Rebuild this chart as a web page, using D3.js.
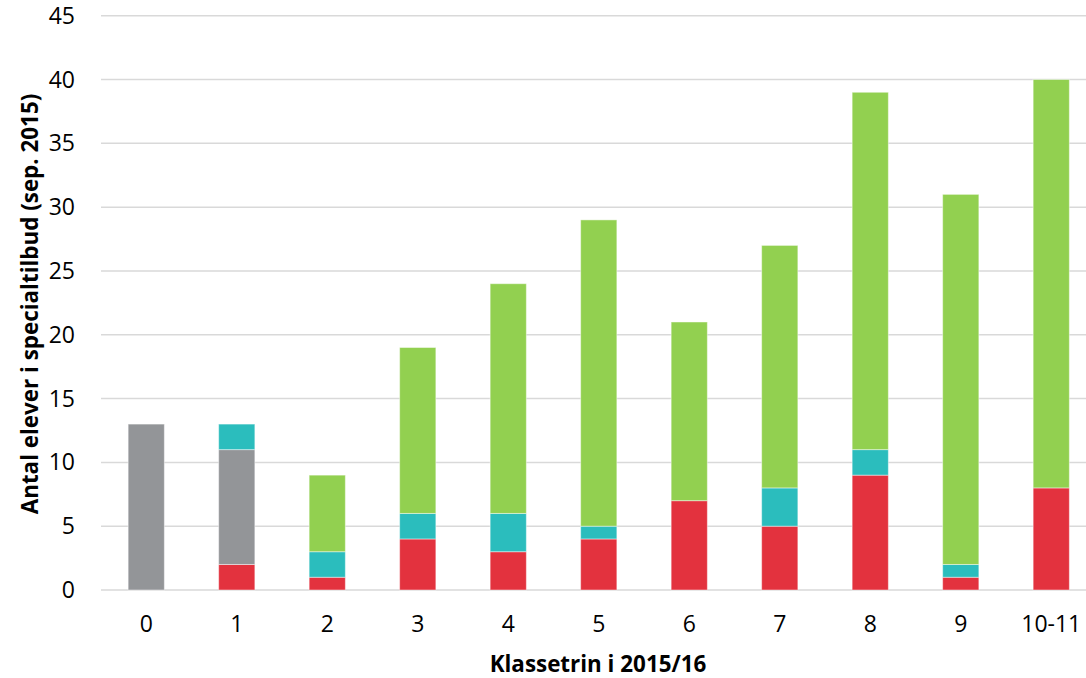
<!DOCTYPE html>
<html>
<head>
<meta charset="utf-8">
<script src="https://cdn.jsdelivr.net/npm/d3@7"></script>
<style>
  body { margin: 0; background: #fff; }
  svg { display: block; font-family: "Open Sans", "Noto Sans", sans-serif; }
</style>
</head>
<body>
<script>
var categories = ["0", "1", "2", "3", "4", "5", "6", "7", "8", "9", "10-11"];
var red   = [0, 2, 1, 4, 3, 4, 7, 5, 9, 1, 8];
var gray  = [13, 9, 0, 0, 0, 0, 0, 0, 0, 0, 0];
var teal  = [0, 2, 2, 2, 3, 1, 0, 3, 2, 1, 0];
var green = [0, 0, 6, 13, 18, 24, 14, 19, 28, 29, 32];
var yTicks = [0, 5, 10, 15, 20, 25, 30, 35, 40, 45];

var w = 1086;
var h = 678;

var seriesKeys = ["red", "gray", "teal", "green"];
var colors = { red: "#e3323e", gray: "#939598", teal: "#2bbdbd", green: "#92d050" };

var rows = categories.map(function (c, i) {
    return { cat: c, red: red[i], gray: gray[i], teal: teal[i], green: green[i] };
});

var svg = d3.select("body").append("svg").attr("width", w).attr("height", h);

var xScale = d3.scaleBand().domain(categories).range([101, 1096.5]).paddingInner(0.6).paddingOuter(0.3);
var yScale = d3.scaleLinear().domain([0, 45]).range([590, 15.7]);

// gridlines
svg.append("g").selectAll("line")
    .data(yTicks)
    .enter()
    .append("line")
    .attr("x1", 101)
    .attr("x2", w)
    .attr("y1", function (d) { return yScale(d); })
    .attr("y2", function (d) { return yScale(d); })
    .attr("stroke", "#d9d9d9")
    .attr("stroke-width", 1.5);

// y tick labels
svg.append("g").selectAll("text")
    .data(yTicks)
    .enter()
    .append("text")
    .text(function (d) { return d; })
    .attr("x", 75)
    .attr("y", function (d) { return yScale(d); })
    .attr("dy", "0.35em")
    .attr("text-anchor", "end")
    .attr("font-size", "23px")
    .attr("fill", "#000");

// stacked bars
var stacked = d3.stack().keys(seriesKeys)(rows);
svg.append("g").selectAll("g")
    .data(stacked)
    .enter()
    .append("g")
    .attr("fill", function (d) { return colors[d.key]; })
    .selectAll("rect")
    .data(function (d) { return d.filter(function (p) { return p[1] > p[0]; }); })
    .enter()
    .append("rect")
    .attr("x", function (d) { return xScale(d.data.cat); })
    .attr("width", xScale.bandwidth())
    .attr("y", function (d) { return yScale(d[1]); })
    .attr("height", function (d) { return yScale(d[0]) - yScale(d[1]); })
    .attr("stroke", "rgba(255,255,255,0.45)")
    .attr("stroke-width", 1);

// x tick labels
svg.append("g").selectAll("text")
    .data(categories)
    .enter()
    .append("text")
    .text(function (d) { return d; })
    .attr("x", function (d) { return xScale(d) + xScale.bandwidth() / 2; })
    .attr("y", 624)
    .attr("dy", "0.35em")
    .attr("text-anchor", "middle")
    .attr("font-size", "23px")
    .attr("fill", "#000");

// axis titles
svg.append("text")
    .text("Klassetrin i 2015/16")
    .attr("x", 598)
    .attr("y", 664)
    .attr("dy", "0.35em")
    .attr("text-anchor", "middle")
    .attr("font-size", "22.4px")
    .attr("font-weight", "bold");

svg.append("text")
    .text("Antal elever i specialtilbud (sep. 2015)")
    .attr("transform", "translate(30,304) rotate(-90)")
    .attr("dy", "0.35em")
    .attr("text-anchor", "middle")
    .attr("font-size", "22.4px")
    .attr("font-weight", "bold");
</script>
</body>
</html>
